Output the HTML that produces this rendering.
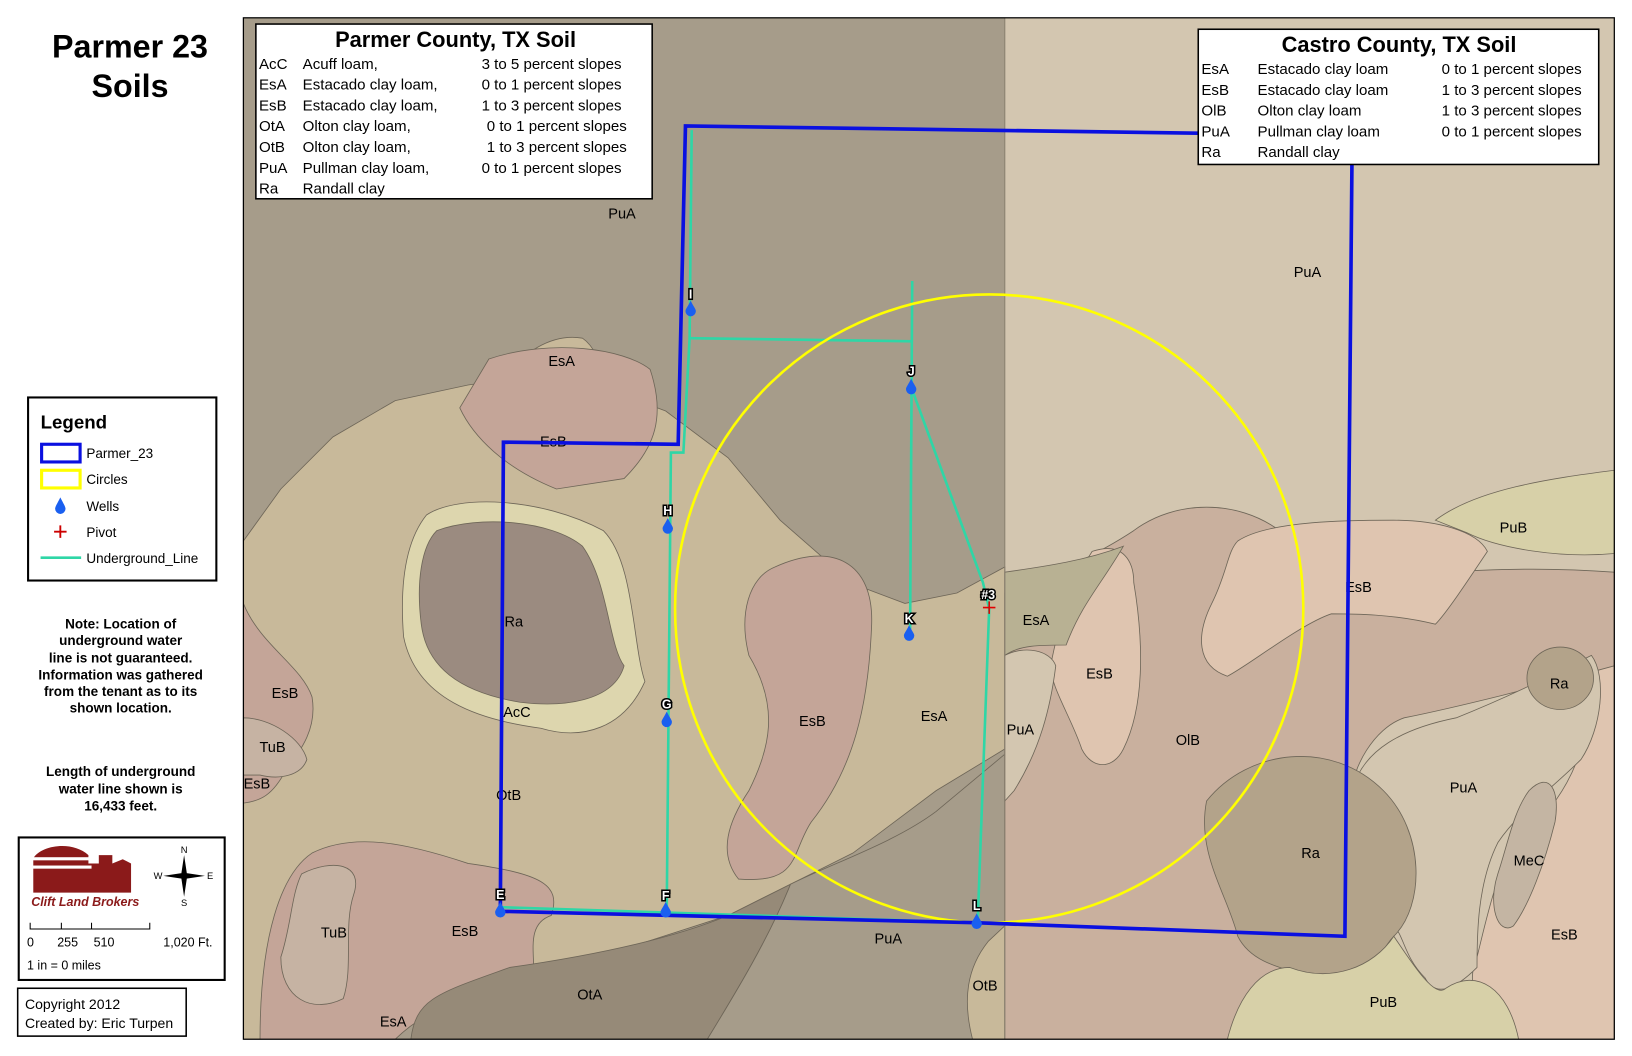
<!DOCTYPE html>
<html><head><meta charset="utf-8"><style>
html,body{margin:0;padding:0;background:#fff;}
svg{display:block;}
text{font-family:"Liberation Sans",Arial,sans-serif;}
</style></head><body>
<svg width="1632" height="1056" viewBox="0 0 1569 1015" xmlns="http://www.w3.org/2000/svg">
<rect width="1569" height="1015" fill="#fff"/>
<defs><clipPath id="m"><rect x="234" y="17" width="1318" height="982"/></clipPath></defs>
<g clip-path="url(#m)" stroke="#6e6658" stroke-width="0.8">
<rect x="234" y="17" width="732" height="982" fill="#a69c8a" stroke="none"/>
<rect x="966" y="17" width="586" height="982" fill="#d3c6b0" stroke="none"/>
<!-- tan -->
<path d="M234,520 L270,470 L320,420 L380,385 L450,370 L520,360 L600,380 L640,395 L700,440 L750,500 L790,535 L830,565 L870,580 L920,570 L966,545 L966,720 L900,760 L820,820 L760,850 L700,880 L560,925 L440,940 L400,960 L360,999 L234,999 Z" fill="#c8b99a"/>
<path d="M485,365 C500,340 530,320 560,325 C575,335 580,360 585,372 Z" fill="#c8b99a"/>
<path d="M470,345 C530,325 600,335 625,355 C640,400 630,430 600,460 L535,470 C485,450 455,420 442,392 Z" fill="#c4a598"/>
<path d="M745,545 C800,520 840,540 838,600 C835,680 820,740 780,790 C760,820 770,850 710,845 C690,820 700,790 720,760 C740,720 750,680 720,630 C710,590 720,555 745,545Z" fill="#c4a598"/>
<path d="M410,495 C440,475 520,478 580,510 C610,540 608,620 620,655 C600,700 560,712 520,700 C460,692 400,672 388,612 C384,560 390,520 410,495Z" fill="#ddd6ae"/>
<path d="M420,510 C460,495 530,500 560,525 C585,560 585,620 600,640 C590,675 540,680 500,675 C440,665 410,640 405,600 C400,560 405,525 420,510Z" fill="#9b8b80"/>
<path d="M234,580 C250,620 290,640 300,670 C305,700 290,720 275,740 C262,765 250,770 234,772 Z" fill="#c4a598"/>
<path d="M234,690 C260,690 290,710 295,730 C290,745 270,750 250,745 L234,745Z" fill="#c6b3a3"/>
<path d="M250,999 C250,900 270,840 300,820 C340,800 390,810 450,830 C520,840 540,850 530,880 C500,890 520,930 510,950 C460,960 420,960 380,999Z" fill="#c4a598"/>
<path d="M290,840 C320,825 350,830 340,860 C330,890 340,930 330,960 C300,975 270,960 270,920 C280,890 280,860 290,840Z" fill="#c6b3a3"/>
<path d="M395,999 C400,960 420,955 490,930 C560,920 640,905 700,880 L760,850 C740,900 710,950 680,999Z" fill="#968a78"/>
<path d="M680,999 C710,950 740,900 760,850 C800,830 860,810 900,780 L966,725 L966,999Z" fill="#a69c8a"/>
<path d="M935,999 C925,960 930,930 950,905 L966,890 L966,999Z" fill="#c8b99a"/>
<!-- right -->
<path d="M1552,620 L1552,999 L1420,999 C1420,960 1410,940 1420,920 C1430,880 1440,830 1460,810 C1490,780 1530,740 1530,650 Z" fill="#dfc5b0"/>
<path d="M966,570 C1000,560 1060,530 1090,510 C1130,480 1190,480 1230,510 L1300,545 C1350,560 1420,540 1552,550 L1552,640 C1480,660 1400,680 1350,690 C1320,700 1300,740 1300,760 L1300,999 L966,999 Z" fill="#c9b09e"/>
<path d="M1300,760 C1310,720 1350,700 1400,690 C1450,670 1490,650 1530,630 C1545,650 1540,700 1520,730 C1490,760 1460,780 1440,810 C1420,850 1420,900 1420,930 C1400,950 1380,960 1370,940 C1350,920 1350,900 1340,890 L1300,890 Z" fill="#d3c6b0"/>
<path d="M1470,760 C1490,740 1500,760 1495,790 C1485,830 1470,870 1455,890 C1440,900 1430,870 1440,840 C1450,810 1455,780 1470,760Z" fill="#c4b5a3"/>
<ellipse cx="1500" cy="652" rx="32" ry="30" fill="#b3a38a"/>
<path d="M1160,770 C1200,720 1280,710 1330,760 C1370,800 1370,870 1340,900 C1320,920 1330,945 1270,940 C1220,930 1200,920 1190,900 C1180,860 1150,820 1160,770Z" fill="#b3a38a"/>
<path d="M1180,999 C1190,960 1210,930 1240,930 C1280,945 1320,930 1340,900 C1360,930 1380,960 1390,950 C1420,930 1450,950 1460,999 Z" fill="#d7d0a8"/>
<path d="M1380,500 C1420,470 1490,460 1552,452 L1552,532 C1500,537 1440,527 1410,512 Z" fill="#d7d0a8"/>
<path d="M1190,520 C1220,500 1300,500 1340,500 C1380,500 1420,510 1430,530 C1410,560 1390,590 1380,600 C1340,590 1300,590 1280,590 C1250,600 1200,640 1180,650 C1150,640 1150,610 1165,580 C1180,550 1180,530 1190,520Z" fill="#dfc5b0"/>
<path d="M1050,530 C1080,520 1090,540 1090,560 C1100,620 1100,680 1080,720 C1070,740 1050,740 1040,720 C1030,690 1010,660 1010,640 C1020,590 1030,560 1050,530Z" fill="#dfc5b0"/>
<path d="M966,550 C1000,545 1040,540 1080,525 C1060,560 1040,580 1025,620 C1000,620 980,620 966,630Z" fill="#b8b193"/>
<path d="M966,630 C985,620 1010,625 1015,640 C1010,680 1000,720 975,760 L966,770Z" fill="#d3c6b0"/>
<line x1="966" y1="17" x2="966" y2="999" stroke="#8a8070" stroke-width="1"/>
</g>
<!-- labels -->
<g font-size="14" fill="#000" text-anchor="middle">
<text x="598" y="210">PuA</text><text x="1257" y="266">PuA</text><text x="540" y="352">EsA</text>
<text x="532" y="429">EsB</text><text x="494" y="602">Ra</text><text x="497" y="689">AcC</text>
<text x="274" y="671">EsB</text><text x="262" y="723">TuB</text><text x="247" y="758">EsB</text>
<text x="489" y="769">OtB</text><text x="781" y="698">EsB</text><text x="898" y="693">EsA</text>
<text x="996" y="601">EsA</text><text x="1057" y="652">EsB</text><text x="981" y="706">PuA</text>
<text x="1142" y="716">OlB</text><text x="1455" y="512">PuB</text><text x="1306" y="569">EsB</text>
<text x="1499" y="662">Ra</text><text x="1407" y="762">PuA</text><text x="1260" y="825">Ra</text>
<text x="1470" y="832">MeC</text><text x="1504" y="903">EsB</text><text x="1330" y="968">PuB</text>
<text x="321" y="901">TuB</text><text x="447" y="900">EsB</text><text x="854" y="907">PuA</text>
<text x="567" y="961">OtA</text><text x="947" y="952">OtB</text><text x="378" y="987">EsA</text>
</g>
<!-- lines -->
<g fill="none" stroke="#2fd6a6" stroke-width="2.5">
<polyline points="665,125 663,325 657,435 645,435 641,875"/>
<line x1="663" y1="325" x2="877" y2="328"/>
<line x1="877" y1="270" x2="875" y2="605"/>
<polyline points="876,372 945,560 951,585 940,885"/>
<line x1="481" y1="872" x2="940" y2="887"/>
</g>
<circle cx="951" cy="585" r="302" fill="none" stroke="#ffff00" stroke-width="2.5"/>
<path d="M659,121 L1300,130 L1293,900 L938,887 L481,876 L484,425 L652,427 Z" fill="none" stroke="#0a10e0" stroke-width="3.5"/>
<!-- wells -->
<g fill="#1a5ff0">
<path d="M664,289 C667,295 669,297 669,299 A5,5 0 0 1 659,299 C659,297 661,295 664,289Z"/>
<path d="M876,364 C879,370 881,372 881,374 A5,5 0 0 1 871,374 C871,372 873,370 876,364Z"/>
<path d="M642,498 C645,504 647,506 647,508 A5,5 0 0 1 637,508 C637,506 639,504 642,498Z"/>
<path d="M874,601 C877,607 879,609 879,611 A5,5 0 0 1 869,611 C869,609 871,607 874,601Z"/>
<path d="M641,684 C644,690 646,692 646,694 A5,5 0 0 1 636,694 C636,692 638,690 641,684Z"/>
<path d="M481,867 C484,873 486,875 486,877 A5,5 0 0 1 476,877 C476,875 478,873 481,867Z"/>
<path d="M640,867 C643,873 645,875 645,877 A5,5 0 0 1 635,877 C635,875 637,873 640,867Z"/>
<path d="M939,878 C942,884 944,886 944,888 A5,5 0 0 1 934,888 C934,886 936,884 939,878Z"/>
</g>
<g font-size="12" font-weight="bold" text-anchor="middle" fill="#fff" stroke="#000" stroke-width="3" paint-order="stroke">
<text x="664" y="287">I</text><text x="876" y="361">J</text><text x="642" y="495">H</text>
<text x="874" y="599">K</text><text x="641" y="681">G</text><text x="481" y="864">E</text>
<text x="640" y="865">F</text><text x="939" y="875">L</text><text x="950" y="576">#3</text>
</g>
<path d="M951,578 V590 M945,584 H957" stroke="#e00000" stroke-width="1.5"/>
<rect x="234" y="17" width="1318" height="982" fill="none" stroke="#000" stroke-width="1.2"/>
<!-- Parmer table -->
<rect x="246" y="23" width="381" height="168" fill="#fff" stroke="#000" stroke-width="1.5"/>
<text x="438" y="45" font-size="21" text-anchor="middle" font-weight="bold">Parmer County, TX Soil</text>
<g font-size="14.5">
<text x="249" y="66">AcC</text><text x="291" y="66">Acuff loam,</text><text x="463" y="66">3 to 5 percent slopes</text>
<text x="249" y="86">EsA</text><text x="291" y="86">Estacado clay loam,</text><text x="463" y="86">0 to 1 percent slopes</text>
<text x="249" y="106">EsB</text><text x="291" y="106">Estacado clay loam,</text><text x="463" y="106">1 to 3 percent slopes</text>
<text x="249" y="126">OtA</text><text x="291" y="126">Olton clay loam,</text><text x="468" y="126">0 to 1 percent slopes</text>
<text x="249" y="146">OtB</text><text x="291" y="146">Olton clay loam,</text><text x="468" y="146">1 to 3 percent slopes</text>
<text x="249" y="166">PuA</text><text x="291" y="166">Pullman clay loam,</text><text x="463" y="166">0 to 1 percent slopes</text>
<text x="249" y="186">Ra</text><text x="291" y="186">Randall clay</text>
</g>
<!-- Castro table -->
<rect x="1152" y="28" width="385" height="130" fill="#fff" stroke="#000" stroke-width="1.5"/>
<text x="1345" y="50" font-size="21" text-anchor="middle" font-weight="bold">Castro County, TX Soil</text>
<g font-size="14.5">
<text x="1155" y="71">EsA</text><text x="1209" y="71">Estacado clay loam</text><text x="1386" y="71">0 to 1 percent slopes</text>
<text x="1155" y="91">EsB</text><text x="1209" y="91">Estacado clay loam</text><text x="1386" y="91">1 to 3 percent slopes</text>
<text x="1155" y="111">OlB</text><text x="1209" y="111">Olton clay loam</text><text x="1386" y="111">1 to 3 percent slopes</text>
<text x="1155" y="131">PuA</text><text x="1209" y="131">Pullman clay loam</text><text x="1386" y="131">0 to 1 percent slopes</text>
<text x="1155" y="151">Ra</text><text x="1209" y="151">Randall clay</text>
</g>
<!-- title -->
<text x="125" y="55" font-size="31" font-weight="bold" text-anchor="middle">Parmer 23</text>
<text x="125" y="93" font-size="31" font-weight="bold" text-anchor="middle">Soils</text>
<!-- legend -->
<rect x="27" y="382" width="181" height="176" fill="#fff" stroke="#000" stroke-width="2"/>
<text x="39" y="412" font-size="18" font-weight="bold">Legend</text>
<rect x="40" y="427" width="37" height="17" fill="none" stroke="#0a10e0" stroke-width="3"/>
<rect x="40" y="452" width="37" height="17" fill="none" stroke="#ffff00" stroke-width="3"/>
<path d="M58,478 C61,484 63,487 63,489 A5,5 0 0 1 53,489 C53,487 55,484 58,478Z" fill="#1a5ff0"/>
<path d="M58,505 V517 M52,511 H64" stroke="#cc0000" stroke-width="1.8"/>
<line x1="39" y1="536" x2="78" y2="536" stroke="#2fd6a6" stroke-width="2.5"/>
<g font-size="13"><text x="83" y="440">Parmer_23</text><text x="83" y="465">Circles</text><text x="83" y="491">Wells</text><text x="83" y="516">Pivot</text><text x="83" y="541">Underground_Line</text></g>
<g font-size="13" font-weight="bold" text-anchor="middle">
<text x="116" y="604">Note:  Location of</text><text x="116" y="620">underground water</text><text x="116" y="637">line is not guaranteed.</text>
<text x="116" y="653">Information was gathered</text><text x="116" y="669">from the tenant as to its</text><text x="116" y="685">shown location.</text>
<text x="116" y="746">Length of underground</text><text x="116" y="763">water line shown is</text><text x="116" y="779">16,433 feet.</text>
</g>
<!-- logo -->
<rect x="18" y="805" width="198" height="137" fill="#fff" stroke="#000" stroke-width="2"/>
<path d="M32,858 L32,825 C40,812 70,808 85,822 L85,830 L95,830 L95,822 L108,822 L108,830 L118,826 L126,830 L126,858 Z" fill="#8b1a1a"/>
<rect x="30" y="824" width="58" height="3" fill="#fff"/><rect x="30" y="832" width="58" height="3" fill="#fff"/>
<text x="30" y="871" font-size="12" font-style="italic" font-weight="bold" fill="#8b1a1a">Clift Land Brokers</text>
<path d="M177,822 L180,842 L177,862 L174,842 Z M157,842 L177,839 L197,842 L177,845 Z" fill="#000"/>
<g font-size="9" font-family="Liberation Serif" text-anchor="middle"><text x="177" y="820">N</text><text x="177" y="871">S</text><text x="152" y="845">W</text><text x="202" y="845">E</text></g>
<path d="M29,887 V893 H144 V887 M59,887 V893 M88,887 V893" stroke="#000" fill="none"/>
<g font-size="12"><text x="26" y="910">0</text><text x="55" y="910">255</text><text x="90" y="910">510</text><text x="157" y="910">1,020 Ft.</text><text x="26" y="932">1 in = 0 miles</text></g>
<rect x="17" y="950" width="162" height="46" fill="#fff" stroke="#000" stroke-width="1.5"/>
<g font-size="13.5"><text x="24" y="970">Copyright 2012</text><text x="24" y="988">Created by: Eric Turpen</text></g>
</svg>
</body></html>
